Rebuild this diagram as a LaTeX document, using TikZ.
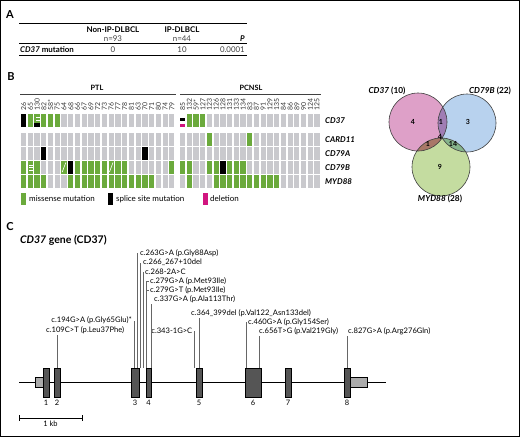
\documentclass[tikz,border=0pt]{standalone}
\usepackage{fontspec}
\setmainfont{Lato}
\usetikzlibrary{positioning}

\definecolor{mutgreen}{HTML}{6BAA3C}
\definecolor{nomutgrey}{HTML}{C9C9CD}
\definecolor{delpink}{HTML}{D1157F}
\definecolor{vpink}{HTML}{DEA0C8}
\definecolor{vblue}{HTML}{B8D2EE}
\definecolor{vgreen}{HTML}{C4DCA0}
\definecolor{vpurple}{HTML}{A07DB4}
\definecolor{vbrown}{HTML}{A97868}
\definecolor{vteal}{HTML}{86B48C}
\definecolor{vcore}{HTML}{6E646E}
\definecolor{exgrey}{HTML}{555555}
\definecolor{utrgrey}{HTML}{ABABAB}

\newcommand{\fsz}[1]{\fontsize{#1}{#1}\selectfont}
% one cell of the mutation matrix: x, top, height
\newcommand{\mcellg}[3]{\fill[nomutgrey] (#1,#2) rectangle ++(5.2,#3);}
\newcommand{\mcellm}[3]{\fill[mutgreen] (#1,#2) rectangle ++(5.2,#3);}
\newcommand{\mcells}[3]{\fill[black] (#1,#2) rectangle ++(5.2,#3);}
\newcommand{\mcelle}[3]{\mcellm{#1}{#2}{#3}
  \foreach \f in {0.3,0.5,0.7} \draw[white,line width=0.5pt] (#1+1.6,#2+#3*\f) -- ++(3.6,0);}
\newcommand{\mcellx}[3]{\mcellm{#1}{#2}{#3}
  \foreach \f in {0.25,0.45} \draw[white,line width=0.5pt] (#1+1.6,#2+#3*\f) -- ++(3.6,0);
  \fill[black] (#1,#2+#3*0.68) rectangle ++(5.2,#3*0.32);}
\newcommand{\mcelll}[3]{\mcellm{#1}{#2}{#3}
  \draw[white,line width=0.6pt] (#1+0.8,#2+#3-1.5) -- (#1+4.4,#2+1.5);}
\newcommand{\mcelld}[3]{\fill[black] (#1,#2+4) rectangle ++(5.2,3);
  \fill[delpink] (#1,#2+#3-3) rectangle ++(5.2,3);}

\begin{document}
\begin{tikzpicture}[x=1pt,y=-1pt]
	\tikzstyle{every node}=[inner sep=1pt]
	\tikzstyle{panel}=[font=\bfseries\fsz{11}]
	\tikzstyle{tabhead}=[font=\bfseries\fsz{7.9}]
	\tikzstyle{tabtxt}=[font=\fsz{7.9}, text=black!75]
	\tikzstyle{tabrule}=[line width=0.7pt]
	\tikzstyle{collab}=[rotate=90, anchor=west, inner sep=0.5pt, font=\fsz{6.9}, text=black!80]
	\tikzstyle{genelab}=[anchor=west, font=\bfseries\itshape\fsz{8}]
	\tikzstyle{legtxt}=[anchor=west, font=\fsz{8}]
	\tikzstyle{venn}=[draw=black!75, line width=0.6pt]
	\tikzstyle{vnum}=[font=\bfseries\fsz{7}]
	\tikzstyle{vlab}=[font=\bfseries\fsz{8.3}]
	\tikzstyle{exon}=[draw=black, fill=exgrey, line width=0.4pt, minimum height=29pt, inner sep=0pt]
	\tikzstyle{utr}=[draw=black, fill=utrgrey, line width=0.4pt, minimum height=10pt, inner sep=0pt]
	\tikzstyle{exnum}=[font=\fsz{7.5}]
	\tikzstyle{mutlab}=[anchor=west, font=\fsz{7.6}]
	\tikzstyle{mutline}=[draw=black!60, line width=0.5pt]
	\useasboundingbox (0,0) rectangle (520,437);
	\draw[line width=1.2pt] (0.6,0.6) rectangle (519.4,436.4);

	% A: table
	\node[panel] (pa) at (10,15) {A};
	\draw[tabrule] (19,23) -- (247,23);
	\draw[tabrule] (19,43) -- (247,43);
	\draw[tabrule] (19,55) -- (247,55);
	\node[tabhead] (hnon) at (113,30) {Non-IP-DLBCL};
	\node[tabhead] (hip) at (182,30) {IP-DLBCL};
	\node[tabtxt] (nnon) at (113,38.5) {n=93};
	\node[tabtxt] (nip) at (182,38.5) {n=44};
	\node[tabhead, anchor=east] (hp) at (246,38.5) {\textit{P}};
	\node[tabhead, anchor=west] (rowlab) at (19,49.5) {\textit{CD37} mutation};
	\node[tabtxt] (vnon) at (113,49.5) {0};
	\node[tabtxt] (vip) at (182,49.5) {10};
	\node[tabtxt, anchor=east] (vp) at (246,49.5) {0.0001};

	% B: mutation matrix
	\node[panel] (pb) at (11,77) {B};
	\node[tabhead, font=\bfseries\fsz{7.3}] (ptl) at (97,88) {PTL};
	\node[tabhead, font=\bfseries\fsz{7.3}] (pcnsl) at (251,88) {PCNSL};
	\draw[line width=0.6pt, black!75] (20,94) -- (176,94);
	\draw[line width=0.6pt, black!75] (180,94) -- (321,94);
	\foreach \lab [count=\i from 0] in {26,65,130,82,58*,75,64,68,66,67,69,72,73,76,77,78,81,63,70,71,80,74,79}
		\node[collab] (ptl\i) at (23.6+6.74*\i,111.5) {\lab};
	\foreach \lab [count=\i from 0] in {85,132,59*,127,123,126,128,131,133,134,83,87,91,129,135,84,86,89,90,124,125}
		\node[collab] (pcn\i) at (182.6+6.72*\i,111.5) {\lab};
	\foreach \rowy/\rowh/\codes in {
		114/13/{s,m,x,m,m,m,g,g,g,g,g,g,g,g,g,g,g,g,g,g,g,g,g,d,m,m,m,g,g,g,g,g,g,g,g,g,g,g,g,g,g,g,g,g},
		133/12.5/{g,g,g,g,g,g,g,g,g,g,g,g,g,g,g,g,g,g,g,g,g,g,g,g,g,g,g,m,g,g,g,g,g,m,g,g,g,g,g,g,g,g,g,g},
		147/12.5/{g,g,g,s,g,g,g,g,g,g,g,g,g,g,g,g,g,g,s,g,g,g,g,g,g,g,g,g,g,g,g,g,g,g,g,g,g,g,g,g,g,g,g,g},
		161/12.5/{m,e,m,g,g,g,l,s,m,m,m,m,m,l,m,m,g,g,g,g,g,g,m,m,m,g,g,m,m,s,m,m,m,g,g,g,g,g,g,g,g,g,g,g},
		175/12.5/{m,m,m,m,g,g,g,m,m,m,m,m,m,m,m,m,m,m,m,m,g,g,g,g,m,g,g,g,m,m,m,m,m,m,m,m,m,m,g,g,g,g,g,g}}
	{
		\foreach \mt [count=\i from 0] in \codes {
			\pgfmathsetmacro{\cx}{\i<23 ? 21+6.74*\i : 180+6.72*(\i-23)}
			\csname mcell\mt\endcsname{\cx}{\rowy}{\rowh}
		}
	}
	\node[genelab] (rcd37) at (324,120.5) {CD37};
	\node[genelab] (rcard) at (324,139.5) {CARD11};
	\node[genelab] (rcd79a) at (324,153.5) {CD79A};
	\node[genelab] (rcd79b) at (324,167.5) {CD79B};
	\node[genelab] (rmyd) at (324,181.5) {MYD88};

	% legend
	\fill[mutgreen] (21,193) rectangle ++(5,12);
	\node[legtxt] (lmis) at (28,199) {missense mutation};
	\fill[black] (108,193) rectangle ++(5,12);
	\node[legtxt] (lspl) at (115,199) {splice site mutation};
	\fill[delpink] (203,193) rectangle ++(5,12);
	\node[legtxt] (ldel) at (209,199) {deletion};

	% Venn
	\coordinate (vA) at (418,122);
	\coordinate (vB) at (467,123);
	\coordinate (vC) at (441,167);
	\fill[vpink] (vA) circle (29pt);
	\fill[vblue] (vB) circle (29pt);
	\fill[vgreen] (vC) circle (29pt);
	\begin{scope} \clip (vA) circle (29pt); \fill[vpurple] (vB) circle (29pt); \end{scope}
	\begin{scope} \clip (vA) circle (29pt); \fill[vbrown] (vC) circle (29pt); \end{scope}
	\begin{scope} \clip (vB) circle (29pt); \fill[vteal] (vC) circle (29pt); \end{scope}
	\begin{scope} \clip (vA) circle (29pt); \clip (vB) circle (29pt); \fill[vcore] (vC) circle (29pt); \end{scope}
	\draw[venn] (vA) circle (29pt) (vB) circle (29pt) (vC) circle (29pt);
	\node[vlab] (lA) at (387,91) {\textit{CD37} (10)};
	\node[vlab] (lB) at (490,91) {\textit{CD79B} (22)};
	\node[vlab] (lC) at (440,198.5) {\textit{MYD88} (28)};
	\node[vnum] (nA) at (413,122) {4};
	\node[vnum] (nAB) at (441,122) {1};
	\node[vnum] (nB) at (468,122) {3};
	\node[vnum] (nABC) at (440,137) {4};
	\node[vnum] (nAC) at (428,144) {1};
	\node[vnum] (nBC) at (453,144) {14};
	\node[vnum] (nC) at (440,167) {9};

	% C: gene map
	\node[panel] (pc) at (10,227) {C};
	\node[anchor=west, font=\bfseries\fsz{10.5}] (gtitle) at (19,240) {\textit{CD37} gene (CD37)};
	\coordinate (gs) at (19,382);
	\coordinate (ge) at (386,382);
	\draw[line width=0.8pt] (gs) -- (ge);
	\node[utr, minimum width=8pt] (utr5) at (39,382) {};
	\node[utr, minimum width=17pt] (utr3) at (358.5,382) {};
	\node[exon, minimum width=6pt] (ex1) at (46,382.5) {};
	\node[exon, minimum width=6pt] (ex2) at (57,382.5) {};
	\node[exon, minimum width=8pt] (ex3) at (135,382.5) {};
	\node[exon, minimum width=5.5pt] (ex4) at (148.5,382.5) {};
	\node[exon, minimum width=6pt] (ex5) at (199,382.5) {};
	\node[exon, minimum width=16pt] (ex6) at (253,382.5) {};
	\node[exon, minimum width=6pt] (ex7) at (288,382.5) {};
	\node[exon, minimum width=6pt] (ex8) at (347,382.5) {};
	\foreach \e in {1,...,8}
		\node[exnum, below=2pt of ex\e] (en\e) {\e};
	\coordinate (kb0) at (19,418);
	\coordinate (kb1) at (82,418);
	\draw[line width=0.6pt] (kb0) -- (kb1);
	\draw[line width=0.6pt] ([yshift=3pt]kb0) -- ([yshift=-3pt]kb0);
	\draw[line width=0.6pt] ([yshift=3pt]kb1) -- ([yshift=-3pt]kb1);
	\path (kb0) -- (kb1) node[midway, below=2pt, font=\fsz{7.5}] (kblab) {1 kb};

	\node[mutlab] (m263) at (139,253) {c.263G>A (p.Gly88Asp)};
	\node[mutlab] (m266) at (142,262.5) {c.266\_267+10del};
	\node[mutlab] (m268) at (144,272) {c.268-2A>C};
	\node[mutlab] (m279a) at (149,281) {c.279G>A (p.Met93Ile)};
	\node[mutlab] (m279b) at (149,290) {c.279G>T (p.Met93Ile)};
	\node[mutlab] (m337) at (153,299.5) {c.337G>A (p.Ala113Thr)};
	\node[mutlab] (m364) at (190,313.5) {c.364\_399del (p.Val122\_Asn133del)};
	\node[mutlab] (m460) at (247,322) {c.460G>A (p.Gly154Ser)};
	\node[mutlab, anchor=east] (m194) at (133,320.5) {c.194G>A (p.Gly65Glu)*};
	\node[mutlab] (m109) at (45,330.5) {c.109C>T (p.Leu37Phe)};
	\node[mutlab, anchor=east] (m343) at (193.5,330.5) {c.343-1G>C};
	\node[mutlab] (m656) at (258,331) {c.656T>G (p.Val219Gly)};
	\node[mutlab] (m827) at (347,331) {c.827G>A (p.Arg276Gln)};

	\draw[mutline] (ex2.north) -- (ex2.north |- m109.south);
	\draw[mutline] ([xshift=-0.5pt]ex3.north) -- ([xshift=-0.5pt]ex3.north |- m194.east);
	\draw[mutline] ([xshift=2pt]ex3.north) -- ([xshift=2pt]ex3.north |- m263.west);
	\draw[mutline] ([xshift=1pt]ex3.north east) -- ([xshift=1pt]ex3.north east |- m266.west);
	\draw[mutline] ([xshift=-2.5pt]ex4.north west) -- ([xshift=-2.5pt]ex4.north west |- m268.west);
	\draw[mutline] ([xshift=1pt]ex4.north west) |- (m279a.west);
	\draw[mutline] ([xshift=1pt]ex4.north west |- m279b.west) -- (m279b.west);
	\draw[mutline] (ex4.north east) -- (ex4.north east |- m337.south);
	\draw[mutline] ([xshift=-1.5pt]ex5.north west) -- ([xshift=-1.5pt]ex5.north west |- m343.east);
	\draw[mutline] (ex5.north) -- (ex5.north |- m364.south);
	\draw[mutline] ([xshift=1pt]ex6.north west) -- ([xshift=1pt]ex6.north west |- m460.west);
	\draw[mutline] ([xshift=-1.5pt]ex6.north east) -- ([xshift=-1.5pt]ex6.north east |- m656.south);
	\draw[mutline] (ex8.north) -- (ex8.north |- m827.south);
\end{tikzpicture}
\end{document}
